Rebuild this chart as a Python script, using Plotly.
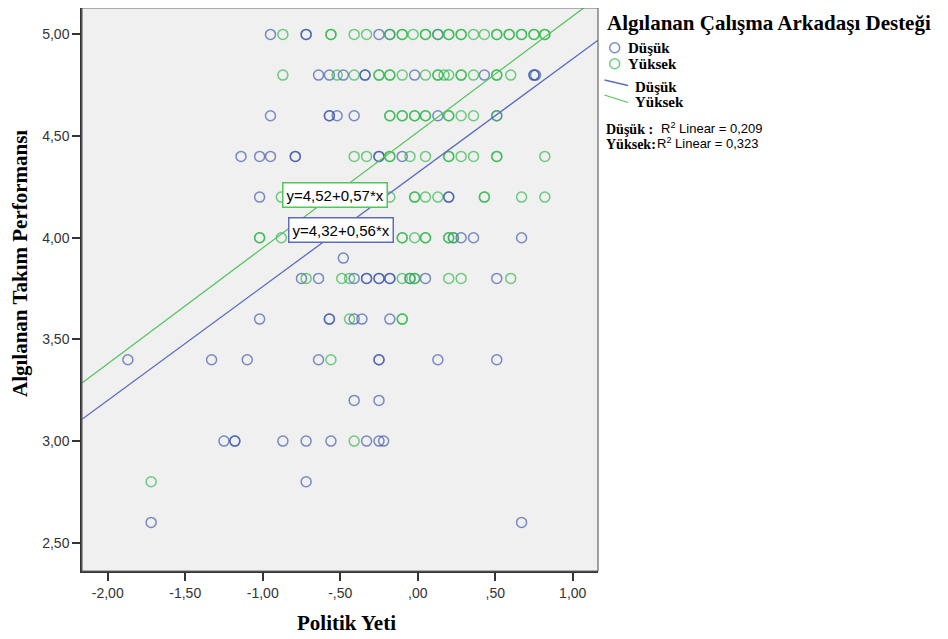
import plotly.graph_objects as go

# ---------------- data ----------------
# Düşük (low co-worker support) group: rows by y level
dusuk_rows = {
    5.0: [-0.95, -0.72, -0.72, -0.25, -0.18, 0.13],
    4.8: [-0.64, -0.57, -0.48, -0.34, -0.34, -0.02, 0.43, 0.75, 0.75, 0.76],
    4.6: [-0.95, -0.57, -0.57, -0.52, -0.41, 0.13, 0.51],
    4.4: [-1.14, -1.02, -0.95, -0.79, -0.79, -0.25, -0.25, -0.10],
    4.2: [-1.02, 0.20, 0.20],
    4.0: [0.23, 0.28, 0.36, 0.67],
    3.9: [-0.48],
    3.8: [-0.75, -0.64, -0.41, -0.33, -0.33, -0.25, -0.25, -0.18, -0.18, -0.05, 0.05, 0.51],
    3.6: [-1.02, -0.57, -0.57, -0.41, -0.36, -0.18],
    3.4: [-1.87, -1.33, -1.10, -0.64, -0.25, -0.25, 0.13, 0.51],
    3.2: [-0.41, -0.25],
    3.0: [-1.25, -1.18, -1.18, -0.87, -0.72, -0.56, -0.33, -0.25, -0.22],
    2.8: [-0.72],
    2.6: [-1.72, 0.67],
}
# Yüksek (high co-worker support) group
yuksek_rows = {
    5.0: [-0.87, -0.56, -0.56, -0.41, -0.33, -0.18, -0.10, -0.10, -0.03, 0.05, 0.05, 0.13, 0.20, 0.20,
          0.28, 0.28, 0.36, 0.43, 0.51, 0.51, 0.59, 0.59, 0.67, 0.67, 0.75, 0.75, 0.82, 0.82],
    4.8: [-0.87, -0.52, -0.41, -0.25, -0.25, -0.18, -0.18, -0.10, 0.05, 0.13, 0.13, 0.17, 0.20, 0.28, 0.28,
          0.36, 0.51, 0.51, 0.60],
    4.6: [-0.18, -0.18, -0.10, -0.10, -0.02, -0.02, 0.05, 0.05, 0.20, 0.20, 0.28, 0.36, 0.51],
    4.4: [-0.41, -0.33, -0.18, -0.18, -0.05, 0.05, 0.20, 0.20, 0.28, 0.36, 0.51, 0.51, 0.82],
    4.2: [-0.88, -0.18, -0.02, -0.02, 0.05, 0.13, 0.43, 0.43, 0.67, 0.82],
    4.0: [-1.02, -1.02, -0.88, -0.10, -0.10, -0.02, 0.05, 0.05, 0.20, 0.20, 0.23],
    3.8: [-0.72, -0.49, -0.44, -0.10, -0.05, -0.02, -0.02, 0.20, 0.28, 0.60],
    3.6: [-0.44, -0.10, -0.10],
    3.4: [-0.56],
    3.0: [-0.41],
    2.8: [-1.72],
}

dusuk_x = [x for y, xs in dusuk_rows.items() for x in xs]
dusuk_y = [y for y, xs in dusuk_rows.items() for x in xs]
yuksek_x = [x for y, xs in yuksek_rows.items() for x in xs]
yuksek_y = [y for y, xs in yuksek_rows.items() for x in xs]

# regression fits (intercept, slope) and R²
dusuk_fit = [4.32, 0.56]
yuksek_fit = [4.52, 0.57]
dusuk_r2 = "0,209"
yuksek_r2 = "0,323"

x_tickvals = [-2.0, -1.5, -1.0, -0.5, 0.0, 0.5, 1.0]
x_ticktext = ["-2,00", "-1,50", "-1,00", "-,50", ",00", ",50", "1,00"]
y_tickvals = [2.5, 3.0, 3.5, 4.0, 4.5, 5.0]
y_ticktext = ["2,50", "3,00", "3,50", "4,00", "4,50", "5,00"]

x_range = [-2.166, 1.163]
y_range = [2.361, 5.130]

# ---------------- layout geometry ----------------
OFF = 8  # page body margin
W, H = 948 - OFF, 639 - OFF
L, R, T, B = 82 - OFF, 350, 0, 68
PW = W - L - R
PH = H - T - B


def px(x):
    return (x - OFF - L) / PW


def py(y):
    return (H - B - (y - OFF)) / PH


BLUE = "rgba(62,88,172,0.68)"
GREEN = "rgba(46,184,72,0.68)"
BLUE_LINE = "rgb(92,108,190)"
GREEN_LINE = "rgb(84,196,92)"
SERIF = "Liberation Serif"
SANS = "Liberation Sans"

fig = go.Figure()

fig.add_trace(go.Scatter(
    x=dusuk_x, y=dusuk_y, mode="markers", showlegend=False,
    marker=dict(symbol="circle-open", size=10, color=BLUE, line=dict(width=1.5, color=BLUE)),
))
fig.add_trace(go.Scatter(
    x=yuksek_x, y=yuksek_y, mode="markers", showlegend=False,
    marker=dict(symbol="circle-open", size=10, color=GREEN, line=dict(width=1.5, color=GREEN)),
))

for fit, col in [(dusuk_fit, BLUE_LINE), (yuksek_fit, GREEN_LINE)]:
    xs = [x_range[0], x_range[1]]
    ys = [fit[0] + fit[1] * v for v in xs]
    fig.add_trace(go.Scatter(x=xs, y=ys, mode="lines", showlegend=False,
                             line=dict(color=col, width=1.3), hoverinfo="skip"))

shapes = []
# frame
shapes.append(dict(type="rect", xref="paper", yref="paper", x0=0, x1=1, y0=0, y1=1,
                   line=dict(color="#666", width=1.2), layer="above"))
# legend marker circles
for cy, col in [(47.7, BLUE), (63.7, GREEN)]:
    shapes.append(dict(type="circle", xref="paper", yref="paper",
                       x0=px(609.7), x1=px(619.7), y0=py(cy + 5), y1=py(cy - 5),
                       line=dict(color=col, width=1.5)))
# legend line symbols
shapes.append(dict(type="line", xref="paper", yref="paper",
                   x0=px(604.5), y0=py(80), x1=px(628), y1=py(85.5), line=dict(color=BLUE_LINE, width=1.3)))
shapes.append(dict(type="line", xref="paper", yref="paper",
                   x0=px(604.5), y0=py(95), x1=px(628), y1=py(102.5), line=dict(color=GREEN_LINE, width=1.3)))

ann = []


def text(x, y, s, size, family, xanchor="left", color="black", **kw):
    ann.append(dict(x=px(x), y=py(y), xref="paper", yref="paper", text=s, showarrow=False,
                    xanchor=xanchor, yanchor="middle", font=dict(family=family, size=size, color=color), **kw))


# legend title & entries
text(605, 23, "<b>Algılanan Çalışma Arkadaşı Desteği</b>", 21, SERIF)
text(626, 47.5, "<b>Düşük</b>", 15, SERIF)
text(626, 63.5, "<b>Yüksek</b>", 15, SERIF)
text(633, 86.5, "<b>Düşük</b>", 15, SERIF)
text(633, 102, "<b>Yüksek</b>", 15, SERIF)
text(604, 129, "<b>Düşük :</b>", 14, SERIF)
text(659, 128, "R<sup>2</sup> Linear = " + dusuk_r2, 13, SANS)
text(604, 144.5, "<b>Yüksek:</b>", 14, SERIF)
text(655, 143.5, "R<sup>2</sup> Linear = " + yuksek_r2, 13, SANS)

# axis titles
text(346, 623, "<b>Politik Yeti</b>", 21, SERIF, xanchor="center")
ann.append(dict(x=px(20), y=py(264), xref="paper", yref="paper", text="<b>Algılanan Takım Performansı</b>",
                showarrow=False, textangle=-90, xanchor="center", yanchor="middle",
                font=dict(family=SERIF, size=21, color="black")))

# fit equation labels
ann.append(dict(x=px(335), y=py(195), xref="paper", yref="paper",
                text="y=%s+%s*x" % (f"{yuksek_fit[0]:.2f}".replace(".", ","), f"{yuksek_fit[1]:.2f}".replace(".", ",")),
                showarrow=False, xanchor="center", yanchor="middle", bgcolor="white",
                bordercolor=GREEN_LINE, borderwidth=1.5, borderpad=3,
                font=dict(family=SANS, size=15, color="black")))
ann.append(dict(x=px(340.5), y=py(230), xref="paper", yref="paper",
                text="y=%s+%s*x" % (f"{dusuk_fit[0]:.2f}".replace(".", ","), f"{dusuk_fit[1]:.2f}".replace(".", ",")),
                showarrow=False, xanchor="center", yanchor="middle", bgcolor="white",
                bordercolor=BLUE_LINE, borderwidth=1.5, borderpad=3,
                font=dict(family=SANS, size=15, color="black")))

fig.update_layout(
    width=W, height=H,
    margin=dict(l=L, r=R, t=T, b=B),
    paper_bgcolor="white", plot_bgcolor="#f0f0f0",
    shapes=shapes, annotations=ann, showlegend=False,
    xaxis=dict(range=x_range, tickvals=x_tickvals, ticktext=x_ticktext, showgrid=False, zeroline=False,
               ticks="outside", ticklen=8, tickwidth=1.5, tickcolor="#333", showline=True,
               linecolor="#333", linewidth=1.5, tickfont=dict(family=SANS, size=14, color="#333")),
    yaxis=dict(range=y_range, tickvals=y_tickvals, ticktext=y_ticktext, showgrid=False, zeroline=False,
               ticks="outside", ticklen=8, tickwidth=1.5, tickcolor="#333", showline=True,
               linecolor="#333", linewidth=1.5, tickfont=dict(family=SANS, size=14, color="#333")),
)

fig.write_html("out.html")
